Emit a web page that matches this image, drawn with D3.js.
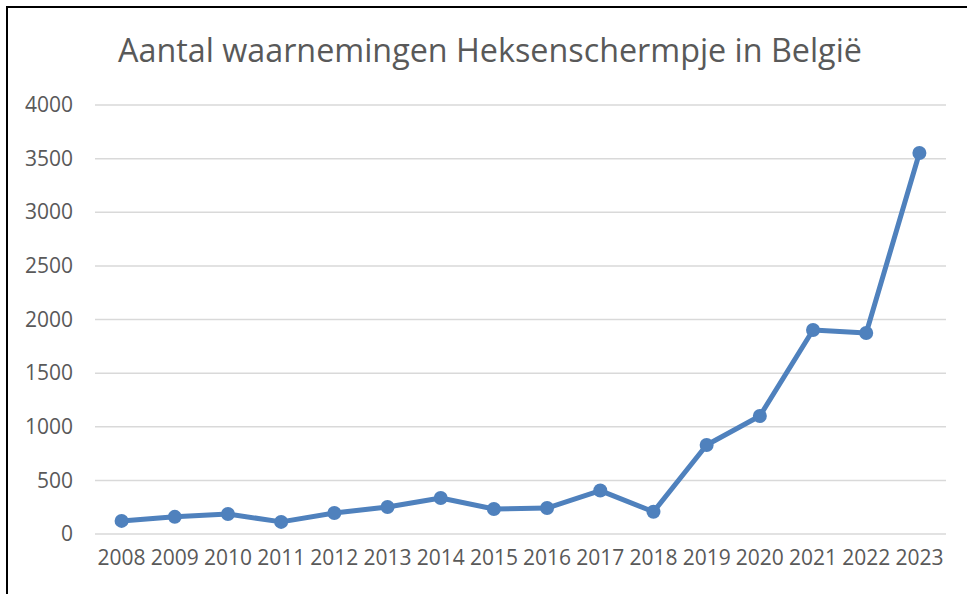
<!DOCTYPE html>
<html>
<head>
<meta charset="utf-8">
<script src="https://cdn.jsdelivr.net/npm/d3@7"></script>
<style>
  body { margin: 0; background: #fff; }
  svg { display: block; }
</style>
</head>
<body>
<div class="chart"></div>
<script>
const years = ["2008","2009","2010","2011","2012","2013","2014","2015","2016","2017","2018","2019","2020","2021","2022","2023"];
const counts = [122, 160, 186, 113, 196, 252, 336, 233, 242, 405, 207, 830, 1100, 1902, 1874, 3552];
const yTicks = [0, 500, 1000, 1500, 2000, 2500, 3000, 3500, 4000];
const title = "Aantal waarnemingen Heksenschermpje in België";

const width = 967, height = 594;
const margin = {top: 105, right: 21, bottom: 60, left: 95};

const svg = d3.select(".chart")
    .append("svg")
    .attr("width", width)
    .attr("height", height);

// chart frame (only top and left edges are visible in the window)
svg.append("rect")
    .attr("x", 7).attr("y", 7)
    .attr("width", 1200).attr("height", 1200)
    .attr("fill", "none")
    .attr("stroke", "#000")
    .attr("stroke-width", 2);

const x = d3.scaleBand()
    .domain(years)
    .range([margin.left, width - margin.right]);

const y = d3.scaleLinear()
    .domain([0, 4000])
    .range([height - margin.bottom, margin.top]);

svg.append("text")
    .attr("x", 490)
    .attr("y", 62)
    .attr("text-anchor", "middle")
    .attr("font-family", "Open Sans")
    .attr("font-size", 32.3)
    .attr("fill", "#595959")
    .text(title);

// gridlines
svg.append("g")
    .selectAll("line")
    .data(yTicks)
    .join("line")
    .attr("x1", margin.left)
    .attr("x2", width - margin.right)
    .attr("y1", d => y(d))
    .attr("y2", d => y(d))
    .attr("stroke", "#d9d9d9")
    .attr("stroke-width", 1.5);

const yAxis = svg.append("g")
    .attr("transform", `translate(${margin.left},0)`)
    .call(d3.axisLeft(y).tickValues(yTicks).tickFormat(d3.format("d")).tickSize(0).tickPadding(22));
yAxis.select(".domain").remove();
yAxis.selectAll("text")
    .attr("font-family", "Open Sans")
    .attr("font-size", 21)
    .attr("fill", "#595959");

const xAxis = svg.append("g")
    .attr("transform", `translate(0,${y(0)})`)
    .call(d3.axisBottom(x).tickSize(0).tickPadding(16));
xAxis.select(".domain").remove();
xAxis.selectAll("text")
    .attr("font-family", "Open Sans")
    .attr("font-size", 21)
    .attr("fill", "#595959");

const data = years.map((yr, i) => ({year: yr, value: counts[i]}));
const cx = d => x(d.year) + x.bandwidth() / 2;

svg.append("path")
    .datum(data)
    .attr("fill", "none")
    .attr("stroke", "#4f81bd")
    .attr("stroke-width", 5)
    .attr("stroke-linejoin", "round")
    .attr("d", d3.line().x(cx).y(d => y(d.value)));

svg.append("g")
    .selectAll("circle")
    .data(data)
    .join("circle")
    .attr("cx", cx)
    .attr("cy", d => y(d.value))
    .attr("r", 7)
    .attr("fill", "#4f81bd");
</script>
</body>
</html>
